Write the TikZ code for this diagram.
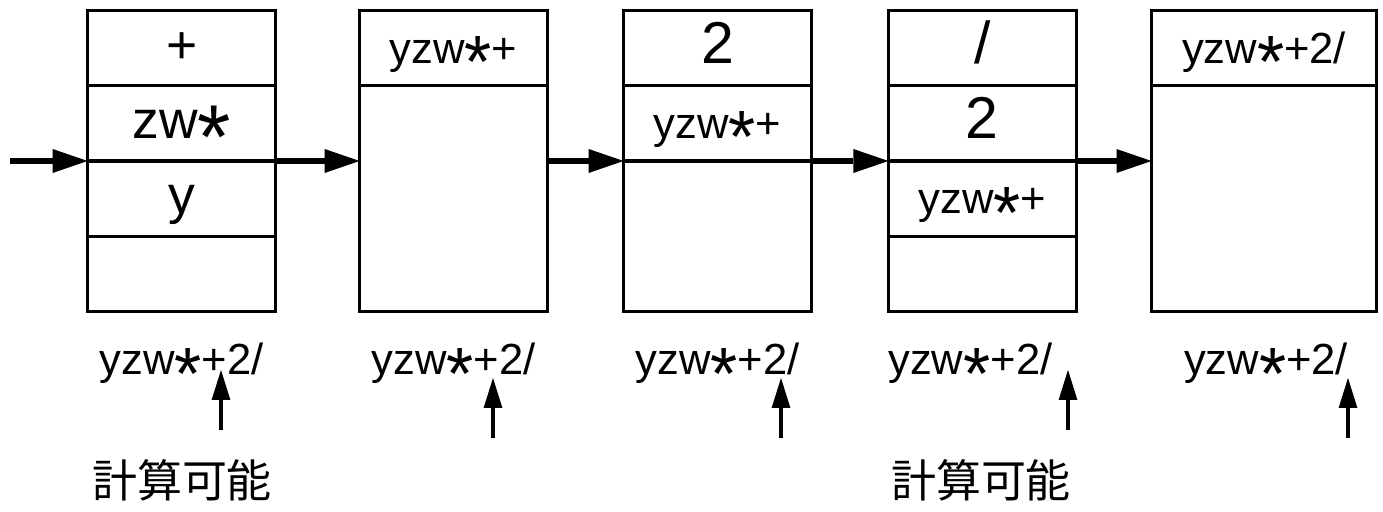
\documentclass[tikz,border=0pt]{standalone}
\usepackage{fontspec}
\setmainfont{Liberation Sans}
\newfontfamily\jpfont{Noto Sans CJK JP}
\usepackage{graphicx}
\usetikzlibrary{arrows.meta, positioning}
% a big asterisk sitting on the baseline
\newcommand{\opstar}{\raisebox{-0.56em}[0.7em][0pt]{\scalebox{1.6}[1.7]{*}}}

\begin{document}
\begin{tikzpicture}[
    stackbox/.style={draw, line width=2.3pt, minimum width=#1, minimum height=7.525cm, inner sep=0pt, outer sep=0pt},
    stackbox/.default=4.7cm,
    cell/.style={draw, line width=2.3pt, minimum width=#1, minimum height=1.881cm, inner sep=0pt, outer sep=0pt,
        text height=0.96cm, text depth=0.2cm, font=\fontsize{31}{31}\selectfont},
    cell/.default=4.7cm,
    mid/.style={font=\fontsize{38}{38}\selectfont},
    big/.style={font=\fontsize{42}{42}\selectfont},
    lbl/.style={anchor=base, inner sep=0pt, font=\fontsize{31}{31}\selectfont},
    flow/.style={-{Triangle[length=0.875cm, width=0.6cm, line width=0pt]}, line width=3.9pt},
    ptr/.style={-{Triangle[length=0.75cm, width=0.47cm, line width=0pt]}, line width=2.8pt}]
  \useasboundingbox (0,0) rectangle (34.575,12.8);

  % the five stacks
  \node[stackbox] (s1) at (4.54,8.775) {};
  \node[stackbox] (s2) at (11.34,8.775) {};
  \node[stackbox] (s3) at (17.94,8.775) {};
  \node[stackbox] (s4) at (24.56,8.775) {};
  \node[stackbox=5.625cm] (s5) at (31.6,8.775) {};

  % stack contents, top first
  \node[cell, mid, below=0pt of s1.north] (s1a) {+};
  \node[cell, mid, below=0pt of s1a] (s1b) {zw\opstar};
  \node[cell, mid, below=0pt of s1b] (s1c) {y};
  \node[cell, below=0pt of s2.north] (s2a) {yzw\opstar+};
  \node[cell, big, below=0pt of s3.north] (s3a) {2};
  \node[cell, below=0pt of s3a] (s3b) {yzw\opstar+};
  \node[cell, big, below=0pt of s4.north] (s4a) {/};
  \node[cell, big, below=0pt of s4a] (s4b) {2};
  \node[cell, below=0pt of s4b] (s4c) {yzw\opstar+};
  \node[cell=5.625cm, below=0pt of s5.north] (s5a) {yzw\opstar+2/};

  \coordinate (in) at (0.25,8.775);
  \draw[flow] (in) -- (s1.west);
  \draw[flow] (s1.east) -- (s2.west);
  \draw[flow] (s2.east) -- (s3.west);
  \draw[flow] (s3.east) -- (s4.west);
  \draw[flow] (s4.east) -- (s5.west);

  % input string with read position
  \node[lbl] (l1) at (4.54,3.425) {yzw\opstar+2/};
  \node[lbl] (l2) at (11.34,3.425) {yzw\opstar+2/};
  \node[lbl] (l3) at (17.94,3.425) {yzw\opstar+2/};
  \node[lbl] (l4) at (24.26,3.425) {yzw\opstar+2/};
  \node[lbl] (l5) at (31.65,3.425) {yzw\opstar+2/};

  \coordinate (p1) at (5.525,3.55);  \coordinate (q1) at (5.525,2.05);
  \coordinate (p2) at (12.325,3.35); \coordinate (q2) at (12.325,1.85);
  \coordinate (p3) at (19.525,3.35); \coordinate (q3) at (19.525,1.85);
  \coordinate (p4) at (26.7,3.55);   \coordinate (q4) at (26.7,2.05);
  \coordinate (p5) at (33.7,3.35);   \coordinate (q5) at (33.7,1.85);
  \draw[ptr] (q1) -- (p1);
  \draw[ptr] (q2) -- (p2);
  \draw[ptr] (q3) -- (p3);
  \draw[ptr] (q4) -- (p4);
  \draw[ptr] (q5) -- (p5);

  \node[font=\jpfont\fontsize{32}{32}\selectfont] (ok1) at (4.55,0.8) {計算可能};
  \node[font=\jpfont\fontsize{32}{32}\selectfont] (ok4) at (24.525,0.8) {計算可能};
\end{tikzpicture}
\end{document}
